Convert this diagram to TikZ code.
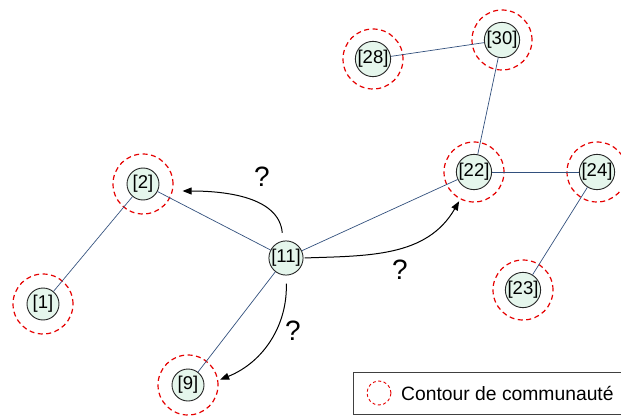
\documentclass[tikz,border=0pt]{standalone}
\usepackage{fontspec}
\setmainfont{Liberation Sans}
\usetikzlibrary{arrows.meta}
\begin{document}
\begin{tikzpicture}[x=1pt,y=-1pt,
  vnode/.style={circle,draw=black!85,line width=0.9pt,fill={rgb,255:red,229;green,246;blue,236},minimum size=32pt,inner sep=0pt,font=\fontsize{18.5}{18.5}\selectfont},
  comm/.style={circle,draw=red!90!black,dashed,dash pattern=on 5pt off 3.5pt,line width=1.2pt,minimum size=60pt,inner sep=0pt},
  link/.style={draw={rgb,255:red,50;green,80;blue,125},line width=0.7pt},
  qarrow/.style={-{Triangle[length=9pt,width=7pt]},line width=1pt,black},
  qmark/.style={font=\fontsize{28}{28}\selectfont}]
\useasboundingbox (0,0) rectangle (621,417);
% communities
\node[comm] (c1) at (43,304) {};
\node[comm] (c2) at (143,184) {};
\node[comm] (c9) at (188,385) {};
\node[comm] (c28) at (373,59) {};
\node[comm] (c30) at (502,40) {};
\node[comm] (c22) at (474,172) {};
\node[comm] (c24) at (597,172) {};
\node[comm] (c23) at (523,290) {};
% vertices
\node[vnode] (n1) at (43,304) {[1]};
\node[vnode] (n2) at (143,184) {[2]};
\node[vnode] (n11) at (286,258) {[11]};
\node[vnode] (n9) at (188,385) {[9]};
\node[vnode] (n28) at (373,59) {[28]};
\node[vnode] (n30) at (502,40) {[30]};
\node[vnode] (n22) at (474,172) {[22]};
\node[vnode] (n24) at (597,172) {[24]};
\node[vnode] (n23) at (523,290) {[23]};
% links
\draw[link] (n1) -- (n2);
\draw[link] (n2) -- (n11);
\draw[link] (n11) -- (n9);
\draw[link] (n11) -- (n22);
\draw[link] (n22) -- (n30);
\draw[link] (n30) -- (n28);
\draw[link] (n22) -- (n24);
\draw[link] (n24) -- (n23);
% question arrows
\draw[qarrow,shorten <=8pt] (n11.100) to[out=95,in=0] ([xshift=9pt,yshift=-7pt]c2.east);
\draw[qarrow,shorten <=1pt] (n11.east) to[out=2,in=240] ([xshift=-1pt,yshift=-2pt]c22.243);
\draw[qarrow,shorten <=8pt] (n11.south) to[out=-88,in=22] ([xshift=2pt]c9.10);
\node[qmark] (q1) at (262,177) {?};
\node[qmark] (q2) at (400,270) {?};
\node[qmark] (q3) at (293,331) {?};
% legend
\node[draw=black!75,line width=0.8pt,minimum width=280pt,minimum height=42pt,anchor=north west] (leg) at (353,372) {};
\node[circle,draw=red!90!black,dashed,dash pattern=on 3pt off 2.5pt,line width=0.9pt,minimum size=24pt,inner sep=0pt] (legc) at (379,393) {};
\node[anchor=west,font=\fontsize{19.3}{19.3}\selectfont,inner sep=0pt] (legt) at (401,393) {Contour de communauté};
\end{tikzpicture}
\end{document}
